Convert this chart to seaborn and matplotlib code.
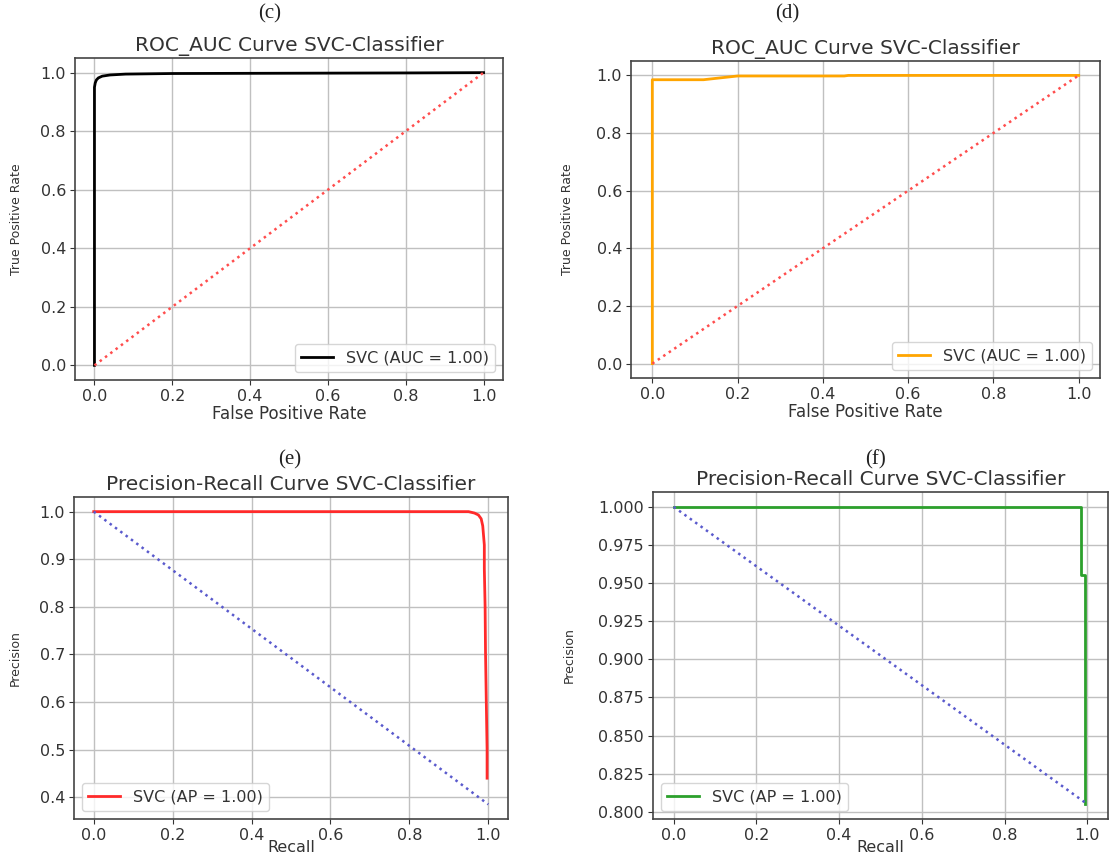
import matplotlib
matplotlib.use("Agg")
import matplotlib.pyplot as plt
import matplotlib.ticker as mticker
import seaborn as sns
import pandas as pd

# ROC data (c)
roc_c_fpr = [0.0, 0.0, 0.002, 0.005, 0.01, 0.02, 0.04, 0.08, 0.2, 0.5, 0.8, 1.0]
roc_c_tpr = [0.0, 0.95, 0.965, 0.975, 0.982, 0.988, 0.992, 0.995, 0.997, 0.998, 0.999, 1.0]
# ROC data (d)
roc_d_fpr = [0.0, 0.0, 0.12, 0.2, 0.45, 0.46, 1.0]
roc_d_tpr = [0.0, 0.985, 0.985, 0.998, 0.998, 1.0, 1.0]
# PR data (e)
pr_e_recall = [0.0, 0.5, 0.95, 0.965, 0.975, 0.982, 0.986, 0.988, 0.99, 0.99, 0.992, 0.993, 0.995, 0.997, 0.997]
pr_e_prec = [1.0, 1.0, 1.0, 0.997, 0.993, 0.985, 0.97, 0.95, 0.93, 0.88, 0.8, 0.705, 0.6, 0.5, 0.44]
# PR data (f)
pr_f_recall = [0.0, 0.5, 0.985, 0.985, 0.995, 0.995]
pr_f_prec = [1.0, 1.0, 1.0, 0.955, 0.955, 0.805]

diag_x = [0.0, 1.0]
diag_roc_y = [0.0, 1.0]
diag_e_y = [1.0, 0.385]
diag_f_y = [1.0, 0.805]

panel_labels = ["(c)", "(d)", "(e)", "(f)"]
roc_title = "ROC_AUC Curve SVC-Classifier"
pr_title = "Precision-Recall Curve SVC-Classifier"
auc_label = "SVC (AUC = 1.00)"
ap_label = "SVC (AP = 1.00)"
xticks = [0, 0.2, 0.4, 0.6, 0.8, 1.0]
roc_yticks = [0, 0.2, 0.4, 0.6, 0.8, 1.0]
e_yticks = [0.4, 0.5, 0.6, 0.7, 0.8, 0.9, 1.0]
f_yticks = [0.8, 0.825, 0.85, 0.875, 0.9, 0.925, 0.95, 0.975, 1.0]

W, H = 1111, 859
fig = plt.figure(figsize=(W / 100, H / 100), dpi=100)

def box(l, r, t, b):
    return [l / W, 1 - b / H, (r - l) / W, (b - t) / H]

boxes = {
    "c": (75, 503, 58, 380),
    "d": (631, 1100, 61, 378),
    "e": (74, 508, 497, 819),
    "f": (653, 1108, 492, 819),
}

TXT = "#333333"

def style_axes(ax, key, title, xlabel, ylabel, ylab_off, xlab_off=None, xlab_size=12):
    l, r, t, b = boxes[key]
    ax.grid(True, color="#c0c0c0", linewidth=1.0)
    ax.set_axisbelow(True)
    ax.set_title(title, fontsize=14.5, pad=5, color=TXT)
    ax.set_xlabel(xlabel, fontsize=xlab_size, labelpad=1, color=TXT)
    ax.set_ylabel(ylabel, fontsize=9, color=TXT)
    ax.yaxis.set_label_coords(-ylab_off / (r - l), 0.5)
    if xlab_off is not None:
        ax.xaxis.set_label_coords(0.5, -xlab_off / (b - t))
    ax.tick_params(labelsize=11.5, pad=3, colors=TXT)
    for s in ax.spines.values():
        s.set_color("#444444")
        s.set_linewidth(1.2)

def draw(ax, x, y, color, label, dx, dy, dcolor):
    df = pd.DataFrame({"x": x, "y": y})
    sns.lineplot(data=df, x="x", y="y", ax=ax, color=color, linewidth=2,
                 sort=False, estimator=None, label=label)
    dd = pd.DataFrame({"x": dx, "y": dy})
    sns.lineplot(data=dd, x="x", y="y", ax=ax, color=dcolor, linewidth=1.8,
                 linestyle=":", sort=False, estimator=None)

def legend(ax, loc):
    leg = ax.legend(loc=loc, fontsize=11.5)
    for t in leg.get_texts():
        t.set_color(TXT)

# (c)
ax = fig.add_axes(box(*boxes["c"]))
draw(ax, roc_c_fpr, roc_c_tpr, "black", auc_label, diag_x, diag_roc_y, "#ff4d4d")
style_axes(ax, "c", roc_title, "False Positive Rate", "True Positive Rate", 52)
ax.set_xticks(xticks)
ax.set_yticks(roc_yticks)
legend(ax, "lower right")

# (d)
ax = fig.add_axes(box(*boxes["d"]))
draw(ax, roc_d_fpr, roc_d_tpr, "orange", auc_label, diag_x, diag_roc_y, "#ff4d4d")
style_axes(ax, "d", roc_title, "False Positive Rate", "True Positive Rate", 57)
ax.set_xticks(xticks)
ax.set_yticks(roc_yticks)
legend(ax, "lower right")

# (e)
ax = fig.add_axes(box(*boxes["e"]))
draw(ax, pr_e_recall, pr_e_prec, "#ff2a2a", ap_label, diag_x, diag_e_y, "#5a5acd")
style_axes(ax, "e", pr_title, "Recall", "Precision", 52, 21, 11.5)
ax.set_xticks(xticks)
ax.set_yticks(e_yticks)
legend(ax, "lower left")

# (f)
ax = fig.add_axes(box(*boxes["f"]))
draw(ax, pr_f_recall, pr_f_prec, "#2ca02c", ap_label, diag_x, diag_f_y, "#5a5acd")
style_axes(ax, "f", pr_title, "Recall", "Precision", 77, 21, 11.5)
ax.set_xticks(xticks)
ax.set_yticks(f_yticks)
ax.yaxis.set_major_formatter(mticker.FormatStrFormatter("%.3f"))
legend(ax, "lower left")

# panel labels
label_pos = [(270, 14), (787, 14), (290, 460), (875, 460)]
for lab, (px, py) in zip(panel_labels, label_pos):
    fig.text(px / W, 1 - py / H, lab, family="Liberation Serif", fontsize=15,
             ha="center", va="center", color="#222222")

fig.savefig("out.png", dpi=100)
